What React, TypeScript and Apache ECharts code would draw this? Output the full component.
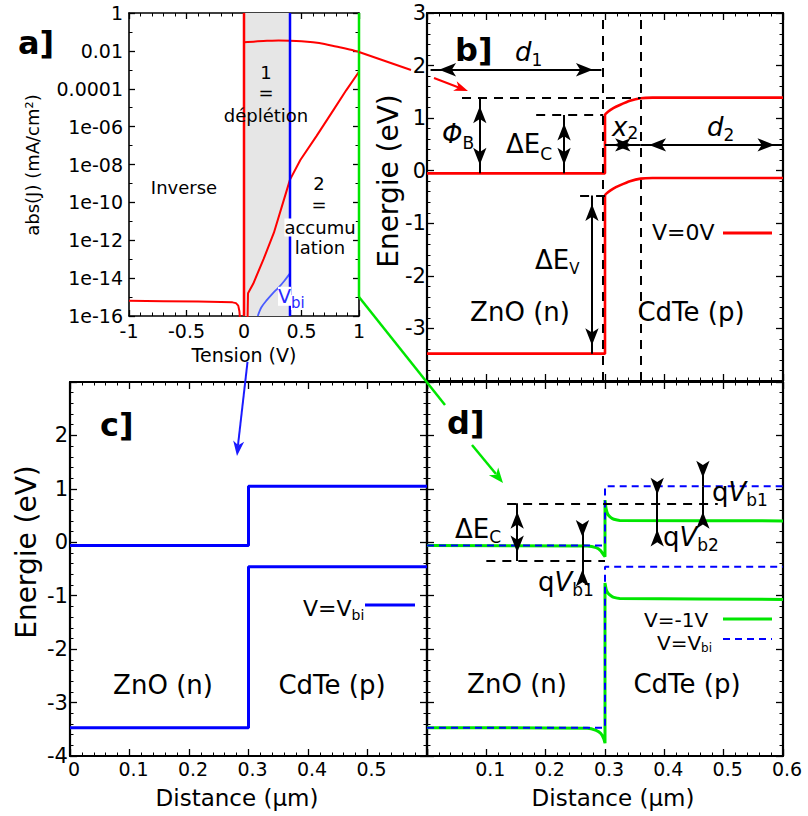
import React, { useEffect, useRef } from "react";
import * as echarts from "echarts";

const FONT = "DejaVu Sans";
const RED = "#ff0000";
const BLUE = "#0000ff";
const GREEN = "#00e600";
const LIGHT_BLUE = "#4a5cff";
const GREY = "#e6e6e6";

// ---------- Panel a : abs(J) vs tension (log10 of J) ----------
const ivVoltage = [-1, -0.7, -0.4, -0.2, -0.1, -0.07, -0.05, -0.04, -0.03, 0.03, 0.035, 0.08, 0.17, 0.26, 0.34, 0.4, 0.49, 0.63, 0.78, 0.89, 1.0];
const ivLogJ = [-15.2, -15.22, -15.24, -15.26, -15.28, -15.32, -15.45, -15.75, -16.5, -16.5, -14.8, -14.3, -13.0, -11.6, -10.0, -8.8, -7.76, -6.5, -5.1, -4.07, -3.1];
const arcVoltage = [0, 0.1, 0.2, 0.3, 0.4, 0.5, 0.6, 0.7, 0.8, 0.9, 1.0];
const arcLogJ = [-1.55, -1.5, -1.47, -1.45, -1.46, -1.49, -1.55, -1.64, -1.77, -1.9, -2.05];
const vbiVoltage = [0.12, 0.15, 0.2, 0.25, 0.3, 0.35, 0.4];
const vbiLogJ = [-16, -15.55, -15.15, -14.8, -14.5, -14.15, -13.75];
const biasVoltages = [0, 0.4, 1]; // V=0 (red), V=Vbi (blue), V=1 (green)
const greenMarkerBottom = -15;
const depletionRange = [0, 0.4];
const logTickValues = [0, -2, -4, -6, -8, -10, -12, -14, -16];
const logTickLabels = ["1", "0.01", "0.0001", "1e-06", "1e-08", "1e-10", "1e-12", "1e-14", "1e-16"];

// ---------- Panel b : V = 0 V ----------
const distB = [0, 0.3, 0.3, 0.305, 0.314, 0.325, 0.342, 0.36, 0.38, 0.6];
const cbB = [-0.05, -0.05, 1.06, 1.12, 1.19, 1.25, 1.33, 1.38, 1.39, 1.39];
const vbB = [-3.48, -3.48, -0.47, -0.41, -0.34, -0.28, -0.2, -0.15, -0.14, -0.14];

// ---------- Panel c / d : V = Vbi ----------
const distC = [0, 0.3, 0.3, 0.6];
const cbC = [-0.06, -0.06, 1.05, 1.05];
const vbC = [-3.47, -3.47, -0.46, -0.46];

// ---------- Panel d : V = -1 V ----------
const distD = [0, 0.27, 0.285, 0.293, 0.298, 0.3, 0.3, 0.302, 0.305, 0.31, 0.315, 0.325, 0.6];
const cbD = [-0.06, -0.07, -0.1, -0.16, -0.24, -0.27, 0.79, 0.62, 0.52, 0.46, 0.43, 0.41, 0.4];
const vbD = [-3.47, -3.48, -3.52, -3.58, -3.68, -3.76, -0.76, -0.88, -0.95, -1.0, -1.03, -1.05, -1.07];

const zip = (a: number[], b: number[]) => a.map((v, i) => [v, b[i]]);

let measureCtx: CanvasRenderingContext2D | null = null;
function textWidth(t: string, size: number, italic?: boolean, bold?: boolean) {
  if (!measureCtx) measureCtx = document.createElement("canvas").getContext("2d");
  if (!measureCtx) return t.length * size * 0.6;
  measureCtx.font = `${italic ? "italic " : ""}${bold ? "bold " : ""}${size}px "${FONT}"`;
  return measureCtx.measureText(t).width;
}

type Part = { t: string; size: number; italic?: boolean; bold?: boolean; dy?: number; color?: string };
function run(x: number, baseline: number, parts: Part[], opts: { align?: "left" | "center"; bg?: string; color?: string } = {}) {
  const widths = parts.map((p) => textWidth(p.t, p.size, p.italic, p.bold));
  const total = widths.reduce((s, w) => s + w, 0);
  let cx = opts.align === "center" ? x - total / 2 : x;
  const els: any[] = [];
  parts.forEach((p, i) => {
    const style: any = {
      text: p.t,
      fontSize: p.size,
      lineHeight: p.size,
      fontFamily: FONT,
      fontStyle: p.italic ? "italic" : "normal",
      fontWeight: p.bold ? "bold" : "normal",
      fill: p.color || opts.color || "#000",
      align: "left",
      verticalAlign: "middle",
    };
    if (opts.bg) {
      style.backgroundColor = opts.bg;
    }
    els.push({ type: "text", x: cx, y: baseline + (p.dy || 0) - 0.3 * p.size, z: 100, style });
    cx += widths[i];
  });
  return els;
}
function rotText(x: number, y: number, text: string, size: number) {
  return {
    type: "text", x, y, rotation: Math.PI / 2, z: 100,
    style: { text, fontSize: size, lineHeight: size, fontFamily: FONT, fill: "#000", align: "center", verticalAlign: "middle" },
  };
}
function seg(x1: number, y1: number, x2: number, y2: number, color: string, w: number, dash?: number[]) {
  return { type: "line", z: 60, shape: { x1, y1, x2, y2 }, style: { stroke: color, lineWidth: w, lineDash: dash } };
}
function head(x1: number, y1: number, x2: number, y2: number, color: string, len = 15, half = 6) {
  const dx = x2 - x1, dy = y2 - y1;
  const L = Math.hypot(dx, dy);
  const ux = dx / L, uy = dy / L, nx = -uy, ny = ux;
  const bx = x2 - ux * len, by = y2 - uy * len;
  const mx = x2 - ux * len * 0.72, my = y2 - uy * len * 0.72;
  return {
    type: "polygon", z: 61,
    shape: { points: [[x2, y2], [bx + nx * half, by + ny * half], [mx, my], [bx - nx * half, by - ny * half]] },
    style: { fill: color },
  };
}

function makeAxis(o: {
  grid: number; pos: string; min: number; max: number; interval: number; lw: number; minor: number;
  label?: any; tickLen?: number;
}) {
  return {
    type: "value",
    gridIndex: o.grid,
    position: o.pos,
    min: o.min,
    max: o.max,
    interval: o.interval,
    axisLine: { show: true, onZero: false, lineStyle: { color: "#000", width: o.lw } },
    axisTick: { show: true, inside: true, length: o.tickLen || 7, lineStyle: { color: "#000", width: 1.3 } },
    minorTick: { show: true, splitNumber: o.minor, length: 3.5, lineStyle: { color: "#000", width: 1 } },
    splitLine: { show: false },
    minorSplitLine: { show: false },
    axisLabel: o.label ? { show: true, color: "#000", fontFamily: FONT, ...o.label } : { show: false },
  };
}

const arrowEnd = { symbol: "arrow", symbolSize: [10, 17], symbolOffset: [0, "50%"] };
function dbl(a: number[], b: number[]) {
  return [{ coord: a, ...arrowEnd }, { coord: b, ...arrowEnd }];
}
function single(tail: number[], tip: number[]) {
  return [{ coord: tail, symbol: "none" }, { coord: tip, ...arrowEnd }];
}
function plain(a: number[], b: number[]) {
  return [{ coord: a, symbol: "none" }, { coord: b, symbol: "none" }];
}
function markSeries(xi: number, data: any[], dashed: boolean) {
  return {
    type: "line", xAxisIndex: xi, yAxisIndex: xi, data: [], silent: true, z: 5,
    markLine: {
      silent: true, symbol: "none", animation: false,
      label: { show: false }, emphasis: { disabled: true },
      lineStyle: { color: "#000", width: 2, type: dashed ? [9, 7] : "solid" },
      data,
    },
  };
}
function lineSeries(xi: number, data: number[][], color: string, width: number, extra: any = {}) {
  return {
    type: "line", xAxisIndex: xi, yAxisIndex: xi, data, showSymbol: false, symbol: "none",
    clip: true, silent: true, z: 4, lineStyle: { color, width, ...(extra.lineStyle || {}) },
    ...(extra.smooth ? { smooth: extra.smooth } : {}),
  };
}

function buildOption() {
  const tickA = { fontSize: 19, margin: 6 };
  const xAxis = [
    makeAxis({ grid: 0, pos: "bottom", min: -1, max: 1, interval: 0.5, lw: 1.6, minor: 5, tickLen: 6, label: { ...tickA, margin: 5 } }),
    makeAxis({ grid: 0, pos: "top", min: -1, max: 1, interval: 0.5, lw: 1.6, minor: 5, tickLen: 6 }),
    makeAxis({ grid: 1, pos: "bottom", min: 0, max: 0.6, interval: 0.1, lw: 2.2, minor: 5 }),
    makeAxis({ grid: 1, pos: "top", min: 0, max: 0.6, interval: 0.1, lw: 2.2, minor: 5 }),
    makeAxis({ grid: 2, pos: "bottom", min: 0, max: 0.6, interval: 0.1, lw: 2.2, minor: 5,
      label: { fontSize: 19, margin: 3, showMaxLabel: false, padding: [0, 0, 0, 8] } }),
    makeAxis({ grid: 2, pos: "top", min: 0, max: 0.6, interval: 0.1, lw: 2.2, minor: 5 }),
    makeAxis({ grid: 3, pos: "bottom", min: 0, max: 0.6, interval: 0.1, lw: 2.2, minor: 5,
      label: { fontSize: 19, margin: 3, showMinLabel: false, padding: [0, 0, 0, 8] } }),
    makeAxis({ grid: 3, pos: "top", min: 0, max: 0.6, interval: 0.1, lw: 2.2, minor: 5 }),
  ];
  const yAxis = [
    makeAxis({ grid: 0, pos: "left", min: -16, max: 0, interval: 2, lw: 1.6, minor: 2, tickLen: 6,
      label: { ...tickA, formatter: (v: number) => logTickLabels[logTickValues.indexOf(Math.round(v))] ?? "" } }),
    makeAxis({ grid: 0, pos: "right", min: -16, max: 0, interval: 2, lw: 1.6, minor: 2, tickLen: 6 }),
    makeAxis({ grid: 1, pos: "left", min: -4, max: 3, interval: 1, lw: 2.2, minor: 5,
      label: { fontSize: 21, margin: 1, showMinLabel: false } }),
    makeAxis({ grid: 1, pos: "right", min: -4, max: 3, interval: 1, lw: 2.2, minor: 5 }),
    makeAxis({ grid: 2, pos: "left", min: -4, max: 3, interval: 1, lw: 2.2, minor: 5,
      label: { fontSize: 21, margin: 2, showMaxLabel: false } }),
    makeAxis({ grid: 2, pos: "right", min: -4, max: 3, interval: 1, lw: 2.2, minor: 5 }),
    makeAxis({ grid: 3, pos: "left", min: -4, max: 3, interval: 1, lw: 2.2, minor: 5 }),
    makeAxis({ grid: 3, pos: "right", min: -4, max: 3, interval: 1, lw: 2.2, minor: 5 }),
  ];

  const series: any[] = [
    // panel a
    {
      type: "line", xAxisIndex: 0, yAxisIndex: 0, data: [], z: 1, silent: true,
      markArea: { silent: true, itemStyle: { color: GREY }, data: [[{ xAxis: depletionRange[0] }, { xAxis: depletionRange[1] }]] },
    },
    lineSeries(0, zip(arcVoltage, arcLogJ), RED, 2, { smooth: 0.3 }),
    lineSeries(0, zip(ivVoltage, ivLogJ), RED, 2),
    lineSeries(0, zip(vbiVoltage, vbiLogJ), LIGHT_BLUE, 1.8, { smooth: 0.3 }),
    lineSeries(0, [[biasVoltages[0], 0], [biasVoltages[0], -16]], RED, 2.5),
    lineSeries(0, [[biasVoltages[1], 0], [biasVoltages[1], -16]], BLUE, 2.5),
    lineSeries(0, [[biasVoltages[2], 0], [biasVoltages[2], greenMarkerBottom]], GREEN, 2.5),
    // panel b
    lineSeries(2, zip(distB, cbB), RED, 2.6, { smooth: 0.2 }),
    lineSeries(2, zip(distB, vbB), RED, 2.6, { smooth: 0.2 }),
    markSeries(2, [
      plain([0.297, -4], [0.297, 3]),
      plain([0.36, -4], [0.36, 3]),
      plain([0.059, 1.39], [0.36, 1.39]),
      plain([0.184, 1.06], [0.297, 1.06]),
      plain([0.258, -0.47], [0.3, -0.47]),
    ], true),
    markSeries(2, [
      dbl([0.006, 1.92], [0.294, 1.92]),
      dbl([0.089, 1.39], [0.089, -0.05]),
      dbl([0.231, 1.06], [0.231, -0.05]),
      dbl([0.278, -0.47], [0.278, -3.48]),
      dbl([0.3, 0.49], [0.36, 0.49]),
      dbl([0.36, 0.49], [0.6, 0.49]),
    ], false),
    // panel c
    lineSeries(4, zip(distC, cbC), BLUE, 3),
    lineSeries(4, zip(distC, vbC), BLUE, 3),
    // panel d
    lineSeries(6, zip(distD, cbD), GREEN, 3, { smooth: 0.15 }),
    lineSeries(6, zip(distD, vbD), GREEN, 3, { smooth: 0.15 }),
    lineSeries(6, zip(distC, cbC), BLUE, 2, { lineStyle: { type: [7, 5] } }),
    lineSeries(6, zip(distC, vbC), BLUE, 2, { lineStyle: { type: [7, 5] } }),
    markSeries(6, [
      plain([0.135, 0.73], [0.49, 0.73]),
      plain([0.1, -0.35], [0.3, -0.35]),
    ], true),
    markSeries(6, [
      dbl([0.152, 0.73], [0.152, -0.35]),
      single([0.262, 0.25], [0.262, -0.06]),
      plain([0.262, -0.06], [0.262, -0.35]),
      single([0.262, -0.67], [0.262, -0.35]),
      single([0.388, 1.07], [0.388, 0.73]),
      plain([0.388, 0.73], [0.388, 0.4]),
      single([0.388, 0.06], [0.388, 0.4]),
      single([0.465, 1.39], [0.465, 1.05]),
      plain([0.465, 1.05], [0.465, 0.73]),
      single([0.465, 0.41], [0.465, 0.73]),
    ], false),
  ];

  const sub = (t: string, size = 17, dy = 6): Part => ({ t, size, dy });
  const elements: any[] = [
    // connectors between panels
    seg(359, 52, 411, 70, RED, 2),
    seg(434, 78, 460, 88, RED, 2),
    head(434, 78, 468, 91, RED, 14, 5),
    seg(247.5, 362, 238, 445, "#1a1aff", 2),
    head(247.5, 362, 237, 456, "#1a1aff", 15, 5.5),
    seg(359, 297, 445, 405, GREEN, 2.5),
    seg(472, 445, 496, 474, GREEN, 2.5),
    head(472, 445, 503, 483, GREEN, 15, 6),
    // legend samples
    seg(723, 233, 772, 233, RED, 3),
    seg(365, 605, 415, 605, BLUE, 3),
    seg(723, 619, 772, 619, GREEN, 3),
    seg(723, 639, 772, 639, BLUE, 2, [7, 5]),

    // panel a texts
    ...run(18, 53, [{ t: "a]", size: 32, bold: true }]),
    ...run(184, 193, [{ t: "Inverse", size: 18 }], { align: "center" }),
    ...run(266, 78, [{ t: "1", size: 18 }], { align: "center" }),
    ...run(266, 98, [{ t: "=", size: 18 }], { align: "center" }),
    ...run(266, 121, [{ t: "déplétion", size: 18 }], { align: "center" }),
    ...run(319, 189, [{ t: "2", size: 18 }], { align: "center" }),
    ...run(319, 210, [{ t: "=", size: 18 }], { align: "center" }),
    ...run(320, 233, [{ t: "accumu", size: 18 }], { align: "center", bg: "#fff" }),
    ...run(320, 253, [{ t: "lation", size: 18 }], { align: "center", bg: "#fff" }),
    ...run(278, 302, [{ t: "V", size: 19 }, { t: "bi", size: 15, dy: 5 }], { color: "#2a2aff", bg: "#fff" }),
    ...run(244, 361, [{ t: "Tension (V)", size: 19 }], { align: "center" }),
    rotText(32, 165, "abs(J) (mA/cm²)", 18),

    // panel b texts
    ...run(455, 60, [{ t: "b]", size: 32, bold: true }]),
    ...run(515, 60, [{ t: "d", size: 26, italic: true }, sub("1", 17, 5)]),
    ...run(442, 142, [{ t: "Φ", size: 26, italic: true }, sub("B", 17, 6)]),
    ...run(506, 152, [{ t: "ΔE", size: 26 }, sub("C", 17, 7)]),
    ...run(612, 135, [{ t: "x", size: 26, italic: true }, sub("2", 17, 3)]),
    ...run(707, 135, [{ t: "d", size: 26, italic: true }, sub("2", 17, 5)]),
    ...run(535, 268, [{ t: "ΔE", size: 26 }, sub("V", 15, 5)]),
    ...run(652, 239, [{ t: "V=0V", size: 22 }]),
    ...run(520, 320, [{ t: "ZnO (n)", size: 26 }], { align: "center" }),
    ...run(691, 320, [{ t: "CdTe (p)", size: 26 }], { align: "center" }),
    rotText(388, 181, "Energie (eV)", 28),

    // panel c texts
    ...run(100, 435, [{ t: "c]", size: 32, bold: true }]),
    ...run(303, 615, [{ t: "V=V", size: 22 }, sub("bi", 14, 4)]),
    ...run(163, 693, [{ t: "ZnO (n)", size: 26 }], { align: "center" }),
    ...run(332, 693, [{ t: "CdTe (p)", size: 26 }], { align: "center" }),
    ...run(237, 805, [{ t: "Distance (µm)", size: 23 }], { align: "center" }),
    rotText(26.5, 552, "Energie (eV)", 28),

    // panel d texts
    ...run(447, 433, [{ t: "d]", size: 32, bold: true }]),
    ...run(455, 537, [{ t: "ΔE", size: 26 }, sub("C", 17, 5)]),
    ...run(538, 590, [{ t: "q", size: 26 }, { t: "V", size: 26, italic: true }, sub("b1", 17, 5)]),
    ...run(663, 545, [{ t: "q", size: 26 }, { t: "V", size: 26, italic: true }, sub("b2", 17, 5)]),
    ...run(712, 500, [{ t: "q", size: 26 }, { t: "V", size: 26, italic: true }, sub("b1", 17, 5)]),
    ...run(644, 626, [{ t: "V=-1V", size: 20 }]),
    ...run(657, 649, [{ t: "V=V", size: 20 }, sub("bi", 12, 3)]),
    ...run(517, 692, [{ t: "ZnO (n)", size: 26 }], { align: "center" }),
    ...run(687, 692, [{ t: "CdTe (p)", size: 26 }], { align: "center" }),
    ...run(613, 805, [{ t: "Distance (µm)", size: 23 }], { align: "center" }),
  ];

  return {
    animation: false,
    backgroundColor: "#fff",
    textStyle: { fontFamily: FONT },
    grid: [
      { left: 129, top: 13, width: 230, height: 303, containLabel: false },
      { left: 427, top: 13, width: 356, height: 368, containLabel: false },
      { left: 70, top: 382, width: 357, height: 374, containLabel: false },
      { left: 427, top: 382, width: 356, height: 374, containLabel: false },
    ],
    xAxis,
    yAxis,
    series,
    graphic: { elements },
  };
}

export default function App() {
  const ref = useRef<HTMLDivElement>(null);
  useEffect(() => {
    const el = ref.current;
    if (!el) return;
    const chart = echarts.init(el, undefined, { renderer: "svg" });
    chart.setOption(buildOption() as any);
    return () => chart.dispose();
  }, []);
  return <div ref={ref} style={{ position: "absolute", left: 0, top: 0, width: 808, height: 816 }} />;
}
